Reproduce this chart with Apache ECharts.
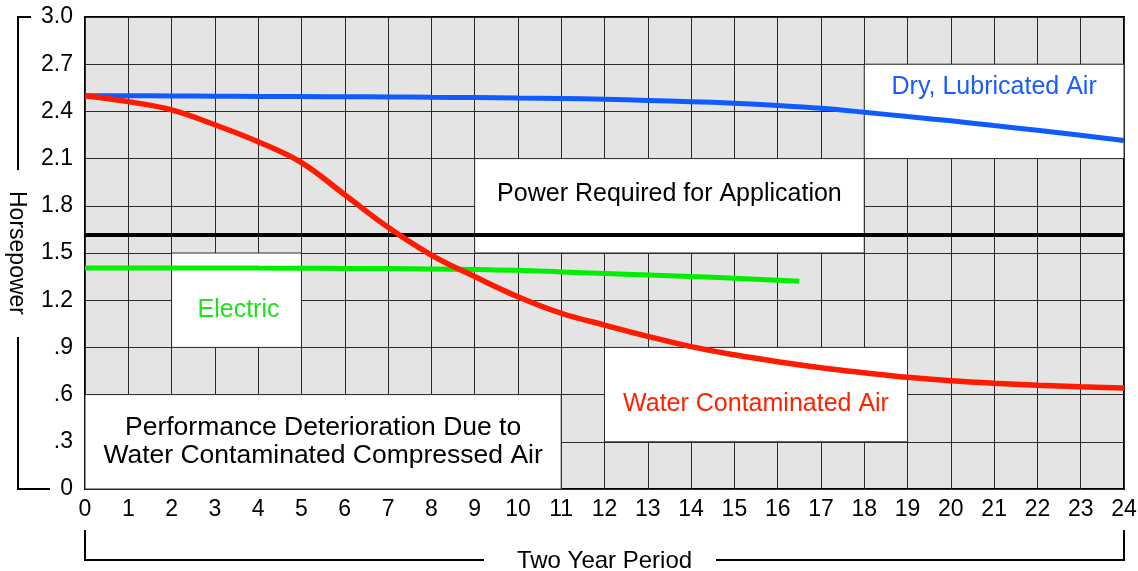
<!DOCTYPE html>
<html>
<head>
<meta charset="utf-8">
<script src="https://cdn.jsdelivr.net/npm/echarts@6/dist/echarts.min.js"></script>
<style>
html,body{margin:0;padding:0;background:#fff;}
#chart{width:1138px;height:571px;}
</style>
</head>
<body>
<div id="chart"></div>
<script>
// ---- data ----
const years = [0,1,2,3,4,5,6,7,8,9,10,11,12,13,14,15,16,17,18,19,20,21,22,23,24];
const dryLubricatedAir = [2.50,2.50,2.498,2.497,2.495,2.494,2.493,2.492,2.49,2.488,2.485,2.482,2.477,2.47,2.462,2.452,2.438,2.42,2.395,2.367,2.34,2.31,2.28,2.248,2.215];
const waterContaminatedAir = [2.50,2.462,2.41,2.315,2.207,2.075,1.87,1.663,1.487,1.35,1.222,1.117,1.042,0.970,0.905,0.853,0.809,0.771,0.739,0.71,0.688,0.672,0.66,0.65,0.642];
const electricYears = [0,1,2,3,4,5,6,7,8,9,10,11,12,13,14,15,16,16.5];
const electricAir = [1.405,1.405,1.405,1.405,1.404,1.403,1.402,1.401,1.399,1.395,1.39,1.38,1.37,1.36,1.35,1.34,1.327,1.32];
const powerRequired = 1.615;
const xTickLabels = ['0','1','2','3','4','5','6','7','8','9','10','11','12','13','14','15','16','17','18','19','20','21','22','23','24'];
const yTickLabels = ['0','.3','.6','.9','1.2','1.5','1.8','2.1','2.4','2.7','3.0'];
// annotation boxes: [xFrom, xTo, yFrom, yTo, text]
const boxDry = [18, 24, 2.1, 2.7, 'Dry, Lubricated Air'];
const boxPower = [9, 18, 1.5, 2.1, 'Power Required for Application'];
const boxElectric = [2, 5, 0.9, 1.5, 'Electric'];
const boxPerformance = [0, 11, 0, 0.6, 'Performance Deterioration Due to\nWater Contaminated Compressed Air'];
const boxWater = [12, 19, 0.3, 0.9, 'Water Contaminated Air'];

const FONT = '"Liberation Sans", Arial, Helvetica, sans-serif';

function box(b, color, offset, extra) {
  return [
    { coord: [b[0], b[3]], label: Object.assign({ formatter: b[4], color: color, offset: offset }, extra || {}) },
    { coord: [b[1], b[2]] }
  ];
}

const chart = echarts.init(document.getElementById('chart'), null, { renderer: 'canvas' });

chart.setOption({
  backgroundColor: '#ffffff',
  animation: false,
  textStyle: { fontFamily: FONT },
  grid: {
    left: 85, right: 14, top: 17, bottom: 82,
    containLabel: false, outerBoundsMode: 'none',
    show: true, backgroundColor: '#e4e4e4', borderColor: '#000', borderWidth: 2
  },
  xAxis: {
    type: 'value', min: 0, max: 24, interval: 1,
    name: 'Two Year Period', nameLocation: 'middle', nameGap: 60,
    nameTextStyle: { fontSize: 24, color: '#000', fontFamily: FONT },
    axisLine: { show: false },
    axisTick: { show: false },
    splitLine: { show: true, lineStyle: { color: '#2a2a2a', width: 1 } },
    axisLabel: {
      fontSize: 23, color: '#000', margin: 9, fontFamily: FONT,
      formatter: v => xTickLabels[Math.round(v)]
    }
  },
  yAxis: {
    type: 'value', min: 0, max: 3, interval: 0.3,
    name: 'Horsepower', nameLocation: 'middle', nameGap: 57, nameRotate: -90,
    nameTextStyle: { fontSize: 23, color: '#000', fontFamily: FONT },
    axisLine: { show: false },
    axisTick: { show: false },
    splitLine: { show: true, lineStyle: { color: '#2a2a2a', width: 1 } },
    axisLabel: {
      fontSize: 23, color: '#000', margin: 12, fontFamily: FONT,
      formatter: v => yTickLabels[Math.round(v / 0.3)]
    }
  },
  graphic: [
    { type: 'polyline', shape: { points: [[31,17],[18,17],[18,170]] }, style: { stroke: '#000', lineWidth: 2, fill: null } },
    { type: 'polyline', shape: { points: [[18,337],[18,489],[50,489]] }, style: { stroke: '#000', lineWidth: 2, fill: null } },
    { type: 'polyline', shape: { points: [[85,530],[85,560],[484,560]] }, style: { stroke: '#000', lineWidth: 2, fill: null } },
    { type: 'polyline', shape: { points: [[716,560],[1124,560],[1124,530]] }, style: { stroke: '#000', lineWidth: 2, fill: null } }
  ],
  series: [
    {
      name: 'boxes', type: 'line', data: [], silent: true,
      markArea: {
        silent: true,
        itemStyle: { color: '#ffffff', borderColor: '#2a2a2a', borderWidth: 1 },
        label: { show: true, position: 'inside', fontSize: 25, fontFamily: FONT, lineHeight: 29 },
        data: [
          box(boxDry, '#1a5cff', [0, -24]),
          box(boxPower, '#000000', [0, -12]),
          box(boxElectric, '#1ee01e', [2, 10]),
          box(boxPerformance, '#000000', [0, 0], { fontSize: 26.5, lineHeight: 28.5 }),
          box(boxWater, '#ff2200', [0, 10])
        ]
      }
    },
    {
      name: 'Power Required', type: 'line', symbol: 'none', z: 3,
      lineStyle: { color: '#000', width: 4 },
      data: [[years[0], powerRequired], [years[years.length - 1], powerRequired]]
    },
    {
      name: 'Electric', type: 'line', symbol: 'none', smooth: 0.4, z: 4,
      lineStyle: { color: '#00ee00', width: 5 },
      data: electricYears.map((x, i) => [x, electricAir[i]])
    },
    {
      name: 'Dry, Lubricated Air', type: 'line', symbol: 'none', smooth: 0.4, z: 4,
      lineStyle: { color: '#0f5bff', width: 5 },
      data: years.map((x, i) => [x, dryLubricatedAir[i]])
    },
    {
      name: 'Water Contaminated Air', type: 'line', symbol: 'none', smooth: 0.4, z: 5,
      lineStyle: { color: '#ff1a00', width: 5.5 },
      data: years.map((x, i) => [x, waterContaminatedAir[i]])
    }
  ]
});
</script>
</body>
</html>
